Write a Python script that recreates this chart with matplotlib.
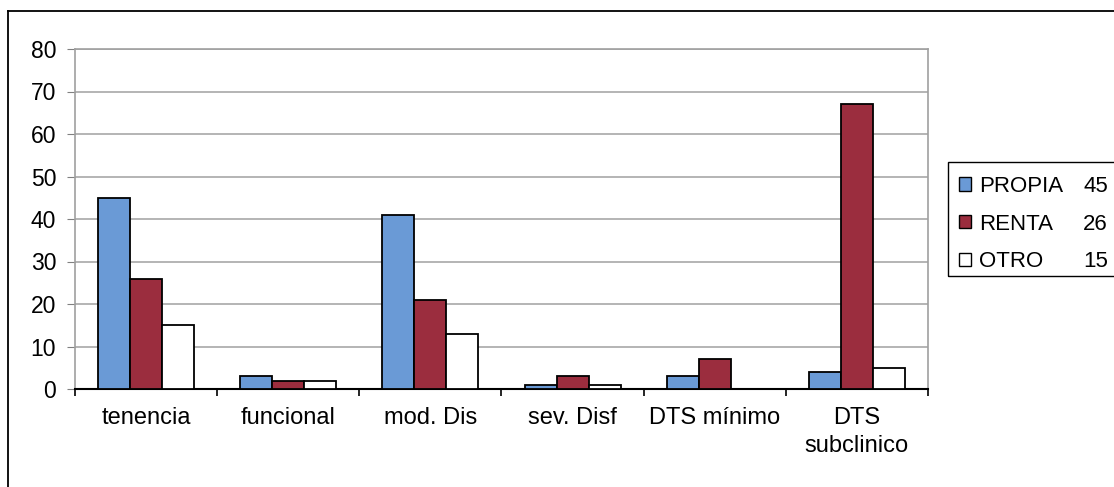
import matplotlib.pyplot as plt
import numpy as np
from matplotlib.patches import Rectangle

plt.rcParams['font.family'] = ['Liberation Sans', 'DejaVu Sans']

categorias = ['tenencia', 'funcional', 'mod. Dis', 'sev. Disf', 'DTS mínimo', 'DTS\nsubclinico']
series = ['PROPIA', 'RENTA', 'OTRO']
propia = [45, 3, 41, 1, 3, 4]
renta = [26, 2, 21, 3, 7, 67]
otro = [15, 2, 13, 1, 0, 5]
yticks = [0, 10, 20, 30, 40, 50, 60, 70, 80]

colores = ['#6a9ad6', '#9b2d3e', '#ffffff']
W, H = 1114, 487

fig = plt.figure(figsize=(W / 100, H / 100), dpi=100)
ax = fig.add_axes([75 / W, 1 - 389 / H, (928 - 75) / W, (389 - 49) / H])

x = np.arange(len(categorias))
ancho = 0.225
for i, (vals, c) in enumerate(zip([propia, renta, otro], colores)):
    ax.bar(x + (i - 1) * ancho, vals, ancho, color=c, edgecolor='black',
           linewidth=1.3, label=series[i], zorder=3)

ax.set_xlim(-0.5, len(categorias) - 0.5)
ax.set_ylim(0, 80)
ax.set_yticks(yticks)
ax.yaxis.grid(True, color='#a8a8a8', linewidth=1.2, zorder=0)
ax.set_axisbelow(True)

for s in ['left', 'right', 'top']:
    ax.spines[s].set_color('#a0a0a0')
    ax.spines[s].set_linewidth(1.2)
ax.spines['bottom'].set_color('black')
ax.spines['bottom'].set_linewidth(1.5)

ax.tick_params(axis='y', length=5.5, color='#808080', labelsize=16.5, pad=8)
ax.set_xticks(x)
ax.set_xticklabels(categorias, fontsize=17, linespacing=1.35)
ax.tick_params(axis='x', length=0, pad=13)
ax.set_xticks(np.arange(len(categorias) + 1) - 0.5, minor=True)
ax.tick_params(axis='x', which='minor', length=5, color='black', width=1.2)

# leyenda con el total de cada serie a la derecha
leg = fig.legend(loc='upper left', bbox_to_anchor=(950 / W, 1 - 167 / H),
                 frameon=False, fontsize=16, handlelength=0.55, handleheight=0.55,
                 handletextpad=0.35, labelspacing=0.75, borderaxespad=0)
for h in leg.legend_handles:
    h.set_linewidth(1.0)
fig.canvas.draw()
for t, v in zip(leg.get_texts(), [propia[0], renta[0], otro[0]]):
    bb = t.get_window_extent()
    fig.text(1108 / W, (bb.y0 + bb.y1) / 2 / H, str(v), ha='right', va='center',
             fontsize=16)
fig.add_artist(Rectangle((948 / W, 1 - 276 / H), 0.2, (276 - 162) / H,
                         transform=fig.transFigure, fill=False,
                         edgecolor='black', linewidth=1.0))

# marco exterior
fig.add_artist(plt.Line2D([8 / W, 1], [1 - 11 / H, 1 - 11 / H],
                          transform=fig.transFigure, color='black', linewidth=1.3))
fig.add_artist(plt.Line2D([8 / W, 8 / W], [0, 1 - 11 / H],
                          transform=fig.transFigure, color='black', linewidth=1.3))

fig.savefig('out.png', dpi=100)
